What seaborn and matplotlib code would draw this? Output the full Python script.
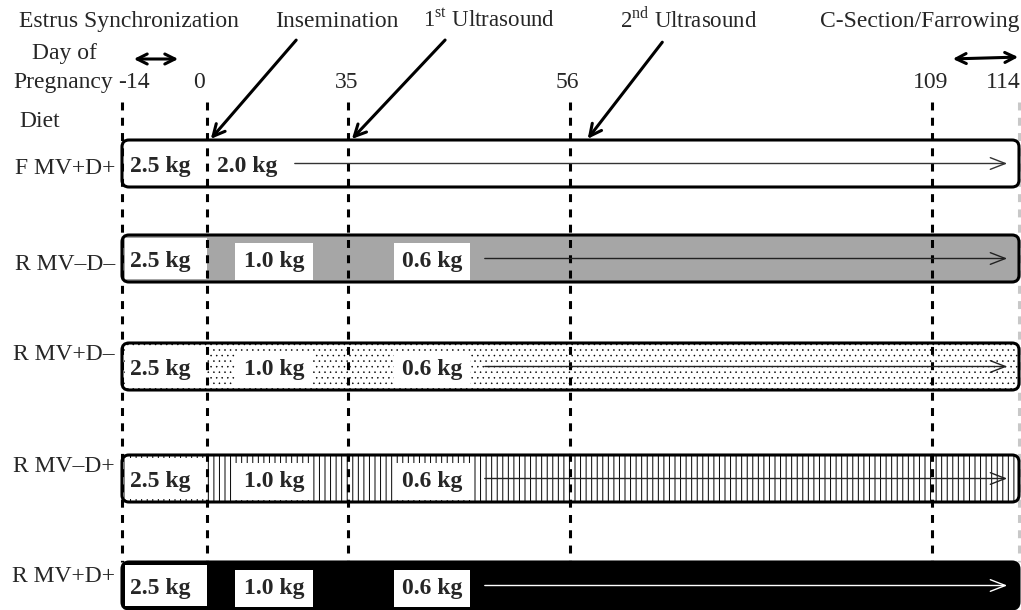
import numpy as np
import matplotlib
matplotlib.use("Agg")
import matplotlib.pyplot as plt
from matplotlib.patches import FancyBboxPatch, Rectangle
import seaborn as sns

# --- data ---------------------------------------------------------------
diets = ["F MV+D+", "R MV–D–", "R MV+D–", "R MV–D+", "R MV+D+"]
sync_amount = ["2.5 kg", "2.5 kg", "2.5 kg", "2.5 kg", "2.5 kg"]
early_amount = ["2.0 kg", "1.0 kg", "1.0 kg", "1.0 kg", "1.0 kg"]
late_amount = [None, "0.6 kg", "0.6 kg", "0.6 kg", "0.6 kg"]
day_ticks = [-14, 0, 35, 56, 109, 114]
day_labels = ["-14", "0", "35", "56", "109", "114"]
events = ["Estrus Synchronization", "Insemination", r"1$^{\mathrm{st}}$ Ultrasound",
          r"2$^{\mathrm{nd}}$ Ultrasound", "C-Section/Farrowing"]
event_days = [None, 0, 35, 56, None]

# --- styling / layout (schematic, day axis not to scale) ----------------
sns.set_theme(style="white")
plt.rcParams["font.family"] = ["Liberation Serif", "DejaVu Serif"]
plt.rcParams["mathtext.fontset"] = "custom"
plt.rcParams["mathtext.rm"] = "Liberation Serif"
plt.rcParams["hatch.linewidth"] = 0.7

day_px = [122, 207, 348, 570, 932, 1019]
def dx(day):
    return float(np.interp(day, day_ticks, day_px))

row_top = [140, 235, 343, 455, 562]
row_h = 47
row_fill = ["white", "#a6a6a6", "white", "white", "black"]
row_hatch = [None, None, "...", "|||", None]
label_y = [168, 264, 355, 466, 577]
FS = 17
BFS = 17
LW = 2.2

fig = plt.figure(figsize=(10.21, 6.10), dpi=100)
ax = fig.add_axes([0, 0, 1, 1])
ax.set_xlim(0, 1021)
ax.set_ylim(610, 0)
ax.axis("off")

# header text
event_x = [129, 337, 489, 689, 920]
event_fs = [FS, FS, 16.5, 16.5, FS]
for name, x, fs in zip(events, event_x, event_fs):
    ax.text(x, 27, name, ha="center", va="baseline", fontsize=fs)
ax.text(64, 59, "Day of", ha="center", va="baseline", fontsize=FS)
ax.text(63, 88, "Pregnancy", ha="center", va="baseline", fontsize=FS)
ax.text(40, 127, "Diet", ha="center", va="baseline", fontsize=FS)
tick_dx = [12, -8, -1, -3, -1, -16]
for d, lab, off in zip(day_ticks, day_labels, tick_dx):
    ax.text(dx(d) + off, 88, lab, ha="center", va="baseline", fontsize=FS)

# double arrows for synchronization and farrowing windows
ax.annotate("", xy=(181, 59), xytext=(131, 59),
            arrowprops=dict(arrowstyle="<->,head_length=0.6,head_width=0.3", lw=2.2, color="black"))
ax.annotate("", xy=(1021, 57), xytext=(950, 59),
            arrowprops=dict(arrowstyle="<->,head_length=0.6,head_width=0.3", lw=2.2, color="black"))

# event pointer arrows
pointer_start = {0: (298, 38), 35: (447, 38), 56: (664, 40)}
for d in [e for e in event_days if e is not None]:
    sx, sy = pointer_start[d]
    ax.annotate("", xy=(dx(d) + 2 + (14 if d == 56 else 0), 141), xytext=(sx, sy),
                arrowprops=dict(arrowstyle="->,head_length=0.7,head_width=0.35", lw=2.2,
                                color="black"))

# diet bars
x0, x1 = dx(-14), dx(114)
for i, name in enumerate(diets):
    top = row_top[i]
    yc = top + row_h / 2
    fill = FancyBboxPatch((x0, top), x1 - x0, row_h,
                          boxstyle="round,pad=0,rounding_size=7",
                          facecolor=row_fill[i], edgecolor="black", linewidth=0,
                          hatch=row_hatch[i], zorder=1)
    if row_hatch[i] == "..." and hasattr(fill, "set_hatch_linewidth"):
        fill.set_hatch_linewidth(0.35)
    ax.add_patch(fill)
    if i > 0:
        ax.add_patch(Rectangle((x0 + 3, top + 3), dx(0) - x0 - 3, row_h - 6,
                               facecolor="white", edgecolor="none", zorder=2))
    ax.add_patch(FancyBboxPatch((x0, top), x1 - x0, row_h,
                                boxstyle="round,pad=0,rounding_size=7",
                                facecolor="none", edgecolor="black", linewidth=LW, zorder=4))

    ax.text(115, label_y[i], name, ha="right", va="center", fontsize=FS)
    ax.text(160, yc + 3, sync_amount[i], ha="center", va="center", fontsize=BFS,
            fontweight="bold", zorder=5)
    if late_amount[i] is None:
        ax.text(247, yc + 3, early_amount[i], ha="center", va="center", fontsize=BFS,
                fontweight="bold", zorder=5)
        arrow_from, acol = 292, "#333333"
    else:
        box = dict(boxstyle="square,pad=0.35", facecolor="white", edgecolor="none")
        ax.text(274, yc + 3, early_amount[i], ha="center", va="center", fontsize=BFS,
                fontweight="bold", bbox=box, zorder=5)
        ax.text(432, yc + 3, late_amount[i], ha="center", va="center", fontsize=BFS,
                fontweight="bold", bbox=box, zorder=5)
        arrow_from = 482
        acol = "white" if row_fill[i] == "black" else "#222222"
    ax.annotate("", xy=(1010, yc), xytext=(arrow_from, yc),
                arrowprops=dict(arrowstyle="->,head_length=0.9,head_width=0.35", lw=1.0,
                                color=acol), zorder=5)

# dashed day markers
for d in day_ticks:
    col = "#c8c8c8" if d == 114 else "black"
    ax.plot([dx(d), dx(d)], [102, 562], color=col, lw=2.2, dashes=(2.6, 2.4), zorder=3)

fig.savefig("out.png", dpi=100)
